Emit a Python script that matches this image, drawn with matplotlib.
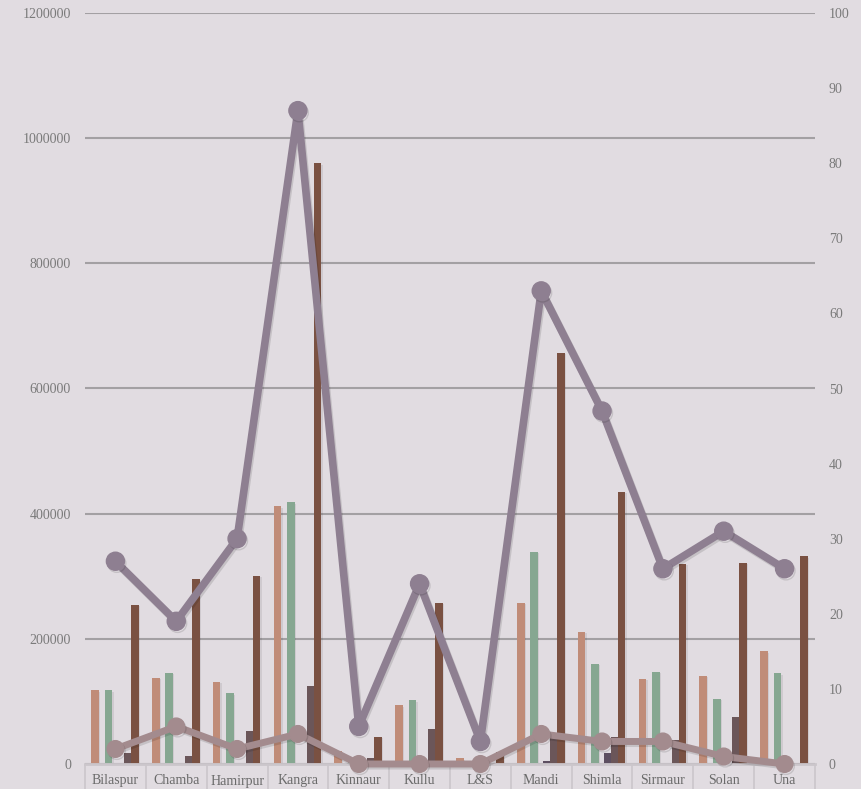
import numpy as np
import matplotlib
matplotlib.use("Agg")
import matplotlib.pyplot as plt
import matplotlib.patheffects as pe
import matplotlib.transforms as mtransforms

districts = ["Bilaspur", "Chamba", "Hamirpur", "Kangra", "Kinnaur", "Kullu",
             "L&S", "Mandi", "Shimla", "Sirmaur", "Solan", "Una"]

# bar series (left axis)
s_salmon = [118000, 138000, 131500, 412000, 21000, 94000, 9000, 258000, 211000, 136000, 141000, 180000]
s_green = [118000, 146000, 113000, 418000, 6000, 102000, 4000, 339000, 160000, 147000, 104000, 145000]
s_purple = [0, 0, 0, 0, 0, 0, 0, 4000, 18000, 0, 0, 0]
s_mauve = [18000, 12800, 53000, 124500, 10000, 56000, 2000, 50000, 43600, 38000, 75600, 2000]
s_brown = [254000, 296000, 301000, 960000, 43600, 258000, 19000, 657000, 435000, 320000, 321000, 332000]

# line series (right axis)
l_big = [27, 19, 30, 87, 5, 24, 3, 63, 47, 26, 31, 26]
l_small = [2, 5, 2, 4, 0, 0, 0, 4, 3, 3, 1, 0]

bg = "#e1dce1"
txt = "#7a7a7a"
serif = ["Liberation Serif", "DejaVu Serif"]

fig = plt.figure(figsize=(8.61, 7.89), dpi=100, facecolor=bg)
ax = fig.add_axes([85/861, 25/789, 730/861, 751/789])
ax.set_facecolor(bg)

x = np.arange(len(districts))
w = 0.125
shadow = [pe.SimplePatchShadow(offset=(1, -1), shadow_rgbFace="#000000", alpha=0.08), pe.Normal()]
bar_sets = [(s_salmon, -0.337, "#c08c78"), (s_green, -0.115, "#86a791"),
            (s_purple, 0.09, "#5d4f61"), (s_mauve, 0.205, "#6b5659"),
            (s_brown, 0.32, "#7a5142")]
for vals, off, col in bar_sets:
    bars = ax.bar(x + off, vals, width=w, color=col, zorder=2)
    for b in bars:
        b.set_path_effects(shadow)

ax.set_xlim(-0.5, 11.5)
ax.set_ylim(0, 1200000)
ax.set_yticks(range(0, 1200001, 200000))
ax.set_yticklabels([str(v) for v in range(0, 1200001, 200000)],
                   fontfamily=serif, fontsize=10, color=txt)
ax.yaxis.grid(True, color="#a3a0a3", linewidth=1.5, zorder=0)
ax.set_axisbelow(True)
ax.tick_params(axis="y", length=0, pad=10)

ax.set_xticks(x)
labels = list(districts)
labels[2] = ""
ax.set_xticklabels(labels, fontfamily=serif, fontsize=10, color="#6a6a6a")
ax.tick_params(axis="x", length=0, pad=7)
# Hamirpur sits a little lower than the other labels
ax.text(2, 0.001, "Hamirpur", transform=mtransforms.blended_transform_factory(ax.transData, fig.transFigure),
        ha="center", va="bottom", fontfamily=serif, fontsize=10, color="#6a6a6a")
ax.set_xticks(np.arange(-0.5, 12, 1), minor=True)
ax.tick_params(axis="x", which="minor", length=26, width=1.2, color="#cbc6cb", direction="out")

for sp in ["top", "left", "right"]:
    ax.spines[sp].set_visible(False)
ax.spines["bottom"].set_color("#cbc6cb")
ax.spines["bottom"].set_linewidth(2)

ax2 = ax.twinx()
ax2.set_ylim(0, 100)
ax2.set_yticks(range(0, 101, 10))
ax2.set_yticklabels([str(v) for v in range(0, 101, 10)], fontfamily=serif, fontsize=10, color=txt)
ax2.tick_params(axis="y", length=0, pad=10)
for sp in ax2.spines.values():
    sp.set_visible(False)

lshadow = [pe.SimpleLineShadow(offset=(1, -1.5), shadow_color="#000000", alpha=0.12), pe.Normal()]
ax2.plot(x, l_small, color="#a38b8e", linewidth=5, marker="o", markersize=12,
         path_effects=lshadow, zorder=3, clip_on=False)
ax2.plot(x, l_big, color="#8e7f91", linewidth=5.5, marker="o", markersize=13,
         path_effects=lshadow, zorder=4, clip_on=False)

fig.savefig("out.png", dpi=100, facecolor=bg)
